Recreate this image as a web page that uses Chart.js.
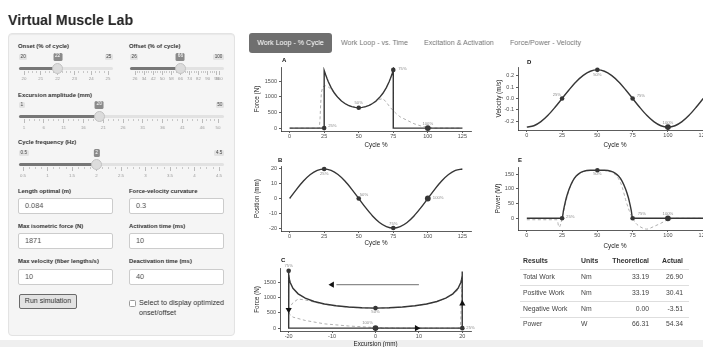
<!DOCTYPE html>
<html>
<head>
<meta charset="utf-8">
<title>Virtual Muscle Lab</title>
<script src="https://cdn.jsdelivr.net/npm/chart.js@4.4.1/dist/chart.umd.min.js"></script>
<style>
  html { filter: grayscale(1); }
  html, body { margin: 0; padding: 0; }
  body { position: relative; width: 703px; height: 347px; overflow: hidden; background: #fff;
         font-family: "Liberation Sans", Arial, Helvetica, sans-serif; color: #333; }
  .a { position: absolute; white-space: nowrap; line-height: 1; }
  h2 { position: absolute; left: 8px; top: 13px; margin: 0; font-size: 14.2px; font-weight: bold;
       line-height: 1; color: #2a2a2a; }
  .well { position: absolute; left: 8px; top: 33px; width: 227px; height: 303px; box-sizing: border-box;
          background: #f5f5f5; border: 1px solid #e3e3e3; border-radius: 4px; box-shadow: inset 0 1px 1px rgba(0,0,0,.05); }
  .lbl { font-size: 5.9px; font-weight: bold; color: #333; }
  .inp { position: absolute; width: 95px; height: 16px; box-sizing: border-box; background: #fff;
         border: 1px solid #ccc; border-radius: 2px; font-size: 7.3px; color: #555; padding-left: 6px; line-height: 14px; }
  .box { font-size: 4.6px; padding: .8px 1.6px; background: #e3e3e3; color: #444; border-radius: 1.5px; }
  .vbox { font-size: 4.8px; padding: 1.4px 1.8px; background: #8a8a8a; color: #fff; border-radius: 1.5px; transform: translateX(-50%); }
  .btn { position: absolute; left: 19px; top: 294px; width: 58px; height: 15px; box-sizing: border-box;
         background: #e2e2e2; border: 1.4px solid #6a6a6a; border-radius: 2px; font-size: 7px; color: #333;
         text-align: center; line-height: 12px; }
  .chk { position: absolute; left: 129px; top: 300px; width: 7px; height: 7px; box-sizing: border-box;
         background: #fff; border: 1px solid #9a9a9a; border-radius: 1.5px; }
  .tab { font-size: 7.1px; color: #7a7a7a; }
  .tab.on { left: 249px; top: 33px; width: 83px; height: 20px; line-height: 20px; text-align: center;
            background: #6f6f6f; color: #fff; border-radius: 3px; }
  .tag { font-size: 6px; font-weight: bold; color: #111; }
  .th { font-size: 6.9px; font-weight: bold; color: #333; }
  .td { font-size: 6.8px; color: #444; }
  .rule { position: absolute; left: 520px; width: 169px; background: #dedede; }
  canvas { position: absolute; }
  .band { position: absolute; left: 0; top: 340px; width: 703px; height: 7px; background: #efefef; }
</style>
</head>
<body>
<div class="band"></div>
<h2>Virtual Muscle Lab</h2>

<div class="well"></div>
<div class="a lbl" style="left:18px;top:44.1px">Onset (% of cycle)</div>
<div class="a lbl" style="left:129px;top:44.1px">Offset (% of cycle)</div>
<div class="a lbl" style="left:18px;top:93.1px">Excursion amplitude (mm)</div>
<div class="a lbl" style="left:18px;top:140.4px">Cycle frequency (Hz)</div>

<div class="a lbl" style="left:18px;top:188.8px">Length optimal (m)</div>
<div class="a lbl" style="left:129px;top:188.8px">Force-velocity curvature</div>
<div class="inp" style="left:18px;top:198px">0.084</div>
<div class="inp" style="left:129px;top:198px">0.3</div>

<div class="a lbl" style="left:18px;top:223.8px">Max isometric force (N)</div>
<div class="a lbl" style="left:129px;top:223.8px">Activation time (ms)</div>
<div class="inp" style="left:18px;top:233px">1871</div>
<div class="inp" style="left:129px;top:233px">10</div>

<div class="a lbl" style="left:18px;top:258.8px">Max velocity (fiber lengths/s)</div>
<div class="a lbl" style="left:129px;top:258.8px">Deactivation time (ms)</div>
<div class="inp" style="left:18px;top:268.5px">10</div>
<div class="inp" style="left:129px;top:268.5px">40</div>

<div class="btn">Run simulation</div>
<div class="chk"></div>
<div class="a" style="left:139px;top:299px;font-size:7.2px;color:#333">Select to display optimized</div>
<div class="a" style="left:139px;top:309px;font-size:7.2px;color:#333">onset/offset</div>

<div class="a tab on">Work Loop - % Cycle</div>
<div class="a tab" style="left:341px;top:39.5px">Work Loop - vs. Time</div>
<div class="a tab" style="left:424px;top:39.5px">Excitation &amp; Activation</div>
<div class="a tab" style="left:510px;top:39.5px">Force/Power - Velocity</div>

<canvas id="chartA" width="225" height="94" style="left:250px;top:55px"></canvas>
<canvas id="chartD" width="245" height="94" style="left:475px;top:55px"></canvas>
<canvas id="chartB" width="225" height="97" style="left:250px;top:150px"></canvas>
<canvas id="chartE" width="245" height="100" style="left:475px;top:150px"></canvas>
<canvas id="chartC" width="225" height="98" style="left:250px;top:250px"></canvas>

<div class="a tag" style="left:282px;top:57px">A</div>
<div class="a tag" style="left:527px;top:59px">D</div>
<div class="a tag" style="left:278px;top:157px">B</div>
<div class="a tag" style="left:518px;top:157px">E</div>
<div class="a tag" style="left:281px;top:257px">C</div>

<script>
// ---- work loop data (cycle %, force, position, velocity, power) ----
const cycleTicks = [0, 25, 50, 75, 100, 125];
const forceTicks = [0, 500, 1000, 1500];
const positionTicks = [-20, -10, 0, 10, 20];
const velocityTicks = [-0.2, -0.1, 0, 0.1, 0.2];
const powerTicks = [0, 50, 100, 150];
const excursionTicks = [-20, -10, 0, 10, 20];

// simulated force (solid)
const forceCycle = [0, 25, 25, 26, 27, 28, 30, 32.5, 35, 37.5, 40, 42.5, 45, 47.5, 50,
  52.5, 55, 57.5, 60, 62.5, 65, 67.5, 70, 72, 73, 74, 75, 75, 125];
const forceN = [0, 0, 1850, 1720, 1600, 1490, 1300, 1120, 980, 870, 790, 730, 690, 665, 655,
  665, 690, 730, 790, 870, 980, 1120, 1300, 1490, 1600, 1720, 1870, 0, 0];
const forceExcursion = [0, 20, 20, 19.96, 19.84, 19.65, 19.02, 17.82, 16.18, 14.14, 11.76, 9.08, 6.18, 3.13, 0,
  -3.13, -6.18, -9.08, -11.76, -14.14, -16.18, -17.82, -19.02, -19.65, -19.84, -19.96, -20, -20, 20];

// force with activation dynamics (dashed)
const dashCycle = [0, 21.5, 22, 22.5, 23, 24, 26, 28, 30, 32.5, 35, 37.5, 40, 42.5, 45, 47.5, 50,
  52.5, 55, 57.5, 60, 62.5, 65, 67.5, 70, 72.5, 75, 77.5, 80, 85, 90, 95, 100, 105, 125];
const dashForceN = [0, 0, 300, 800, 1150, 1330, 1360, 1320, 1250, 1110, 975, 865, 785, 725, 685, 660, 650,
  660, 685, 720, 780, 850, 920, 950, 830, 680, 560, 450, 360, 250, 140, 70, 20, 0, 0];
const dashExcursion = [0, 19.52, 19.65, 19.75, 19.84, 19.96, 19.96, 19.65, 19.02, 17.82, 16.18, 14.14, 11.76, 9.08, 6.18, 3.13, 0,
  -3.13, -6.18, -9.08, -11.76, -14.14, -16.18, -17.82, -19.02, -19.75, -20, -19.75, -19.02, -16.18, -11.76, -6.18, 0, 6.18, 20];

// position and velocity over the cycle
const waveCycle = [0, 5, 10, 15, 20, 25, 30, 35, 40, 45, 50, 55, 60, 65, 70, 75, 80, 85, 90, 95, 100, 105, 110, 115, 120, 125];
const positionMm = [0, 6.2, 11.8, 16.2, 19.0, 20, 19.0, 16.2, 11.8, 6.2, 0, -6.2, -11.8, -16.2, -19.0, -20,
  -19.0, -16.2, -11.8, -6.2, 0, 6.2, 11.8, 16.2, 19.0, 20];
const velocityMs = [-0.25, -0.238, -0.202, -0.147, -0.077, 0, 0.077, 0.147, 0.202, 0.238, 0.25, 0.238, 0.202, 0.147,
  0.077, 0, -0.077, -0.147, -0.202, -0.238, -0.25, -0.238, -0.202, -0.147, -0.077, 0];

// power (solid = simulated, dashed = with activation dynamics)
const powerCycle = [0, 25, 26, 27, 28, 30, 32.5, 35, 37.5, 40, 42.5, 45, 47.5, 50,
  52.5, 55, 57.5, 60, 62.5, 65, 67.5, 70, 72, 73, 74, 75, 125];
const powerW = [0, 0, 27, 50, 70, 100, 127, 144, 154, 160, 163, 164, 164, 164,
  164, 164, 163, 160, 154, 144, 127, 100, 70, 50, 27, 0, 0];
const dashPowerCycle = [0, 20, 21.5, 22, 22.5, 23, 24, 25, 26, 28, 30, 32.5, 35, 37.5, 40, 42.5, 45, 47.5, 50,
  52.5, 55, 57.5, 60, 62.5, 65, 67.5, 70, 72.5, 75, 77.5, 80, 85, 90, 95, 100, 105, 125];
const dashPowerW = [-5, -5, -5, -14, -28, -30, -20, 0, 21, 62, 97, 126, 143, 153, 159, 162, 163, 163, 162,
  163, 163, 160, 158, 150, 135, 108, 64, 27, 0, -18, -28, -37, -28, -17, -5, 0, 0];

// quarter-cycle markers
const markerCycle = [25, 50, 75, 100];
const markerText = ['25%', '50%', '75%', '100%'];
const markerForceN = [0, 655, 1870, 0];
const markerPositionMm = [20, 0, -20, 0];
const markerVelocity = [0, 0.25, 0, -0.25];
const markerPowerW = [0, 164, 0, 0];
const markerExcursion = [20, 0, -20, 0];

// loop direction arrows on the work loop
const arrowExcursion = [-20, 20, 9.5, -10];
const arrowForceN = [600, 800, 0, 1420];
const guideExcursion = [10, -9];
const guideForceN = [1420, 1420];

// results table
const resultNames = ['Total Work', 'Positive Work', 'Negative Work', 'Power'];
const resultUnits = ['Nm', 'Nm', 'Nm', 'W'];
const theoretical = ['33.19', '33.19', '0.00', '66.31'];
const actual = ['26.90', '30.41', '-3.51', '54.34'];

// ---- styling ----
const FONT = '"Liberation Sans", Arial, Helvetica, sans-serif';
const INK = '#363636';
const DASH = '#b0b0b0';
const markerSize = [2.3, 2.3, 2.3, 2.9];
const arrowTurn = [180, 0, 90, 270];

// label offsets [dx, dy, align] for the 25/50/75/100 % markers
const offA = [[4, -2, 'left'], [0, -5, 'center'], [5, -1, 'left'], [0, -4, 'center']];
const offB = [[0, 5, 'center'], [1, -4, 'left'], [0, -4, 'center'], [5, -1, 'left']];
const offC = [[4, 0, 'left'], [0, 4, 'center'], [0, -5, 'center'], [-8, -5, 'center']];
const offD = [[-1, -4, 'right'], [0, 5, 'center'], [4, -3, 'left'], [0, -4, 'center']];
const offE = [[4, -1, 'left'], [0, 4, 'center'], [5, -4, 'left'], [0, -4, 'center']];

const pts = (xs, ys) => xs.map((x, i) => ({ x: x, y: ys[i] }));

function solid(xs, ys, smooth) {
  return { data: pts(xs, ys), showLine: true, borderColor: INK, borderWidth: 1.4,
    pointRadius: 0, tension: 0, cubicInterpolationMode: smooth ? 'monotone' : 'default' };
}
function dashed(xs, ys, smooth) {
  return { data: pts(xs, ys), showLine: true, borderColor: DASH, borderWidth: 1, borderDash: [3, 2.5],
    pointRadius: 0, tension: 0, cubicInterpolationMode: smooth ? 'monotone' : 'default' };
}
function markers(xs, ys, offsets) {
  return { data: pts(xs, ys), showLine: false, pointRadius: markerSize, backgroundColor: INK,
    borderWidth: 0, labelText: markerText, labelOffset: offsets };
}

// small grey "25%" style tags next to markers
const pointLabels = {
  id: 'pointLabels',
  afterDatasetsDraw(chart) {
    const ctx = chart.ctx;
    chart.data.datasets.forEach((ds, i) => {
      if (!ds.labelText) return;
      ctx.save();
      ctx.font = '4.2px ' + FONT;
      ctx.fillStyle = '#8c8c8c';
      ctx.textBaseline = 'middle';
      chart.getDatasetMeta(i).data.forEach((p, j) => {
        const o = ds.labelOffset[j];
        ctx.textAlign = o[2];
        ctx.fillText(ds.labelText[j], p.x + o[0], p.y + o[1]);
      });
      ctx.restore();
    });
  }
};

function axis(ticks, min, max, title, fit, fmt, pad) {
  return {
    type: 'linear', min: min, max: max,
    afterBuildTicks: s => { s.ticks = ticks.map(v => ({ value: v })); },
    afterFit: fit,
    grid: { drawOnChartArea: false, drawTicks: true, tickLength: 2, color: '#333', lineWidth: 0.8 },
    border: { display: true, color: '#333', width: 0.8 },
    ticks: { font: { size: 5.5, family: FONT }, color: '#4d4d4d', padding: pad, autoSkip: false,
      maxRotation: 0, callback: fmt || (v => String(v)) },
    title: { display: true, text: title, font: { size: 6.3, family: FONT }, color: '#1a1a1a', padding: 0 }
  };
}

function panel(id, cfg) {
  return new Chart(document.getElementById(id), {
    type: 'scatter',
    data: { datasets: cfg.datasets },
    options: {
      responsive: false, animation: false, events: [],
      layout: { padding: cfg.pad },
      plugins: { legend: { display: false }, tooltip: { enabled: false } },
      scales: {
        x: axis(cfg.x.ticks, cfg.x.min, cfg.x.max, cfg.x.title, s => { s.height = cfg.xHeight; }, cfg.x.fmt, 0),
        y: axis(cfg.y.ticks, cfg.y.min, cfg.y.max, cfg.y.title, s => { s.width = cfg.yWidth; }, cfg.y.fmt, 2)
      }
    },
    plugins: [pointLabels]
  });
}

panel('chartA', {
  pad: { left: 3, top: 12, right: 4, bottom: 0 }, yWidth: 28, xHeight: 18,
  x: { ticks: cycleTicks, min: -6.25, max: 131.25, title: 'Cycle %' },
  y: { ticks: forceTicks, min: -93.5, max: 1963.5, title: 'Force (N)' },
  datasets: [markers(markerCycle, markerForceN, offA), solid(forceCycle, forceN), dashed(dashCycle, dashForceN)]
});

panel('chartB', {
  pad: { left: 3, top: 16, right: 4, bottom: 0 }, yWidth: 28, xHeight: 16,
  x: { ticks: cycleTicks, min: -6.25, max: 131.25, title: 'Cycle %' },
  y: { ticks: positionTicks, min: -22, max: 22, title: 'Position (mm)' },
  datasets: [markers(markerCycle, markerPositionMm, offB), solid(waveCycle, positionMm, true)]
});

panel('chartD', {
  pad: { left: 20, top: 12, right: 8, bottom: 0 }, yWidth: 23, xHeight: 19,
  x: { ticks: cycleTicks, min: -6.25, max: 131.25, title: 'Cycle %' },
  y: { ticks: velocityTicks, min: -0.275, max: 0.275, title: 'Velocity (m/s)', fmt: v => v.toFixed(1) },
  datasets: [markers(markerCycle, markerVelocity, offD), solid(waveCycle, velocityMs, true)]
});

panel('chartE', {
  pad: { left: 19, top: 17, right: 8, bottom: 0 }, yWidth: 24, xHeight: 20,
  x: { ticks: cycleTicks, min: -6.25, max: 131.25, title: 'Cycle %' },
  y: { ticks: powerTicks, min: -40, max: 175, title: 'Power (W)' },
  datasets: [markers(markerCycle, markerPowerW, offE), solid(powerCycle, powerW, true),
    dashed(dashPowerCycle, dashPowerW, true)]
});

panel('chartC', {
  pad: { left: 3, top: 18, right: 4, bottom: 0 }, yWidth: 27, xHeight: 17,
  x: { ticks: excursionTicks, min: -22, max: 22, title: 'Excursion (mm)' },
  y: { ticks: forceTicks, min: -93.5, max: 1963.5, title: 'Force (N)' },
  datasets: [
    markers(markerExcursion, markerForceN, offC),
    { data: pts(arrowExcursion, arrowForceN), showLine: false, pointStyle: 'triangle', pointRotation: arrowTurn,
      pointRadius: 3.6, backgroundColor: '#111', borderWidth: 0 },
    { data: pts(guideExcursion, guideForceN), showLine: true, borderColor: '#8c8c8c', borderWidth: 1.4, pointRadius: 0 },
    solid(forceExcursion, forceN),
    dashed(dashExcursion, dashForceN)
  ]
});

// ---- side panel sliders ----
function el(cls, css, text) {
  const d = document.createElement('div');
  d.className = cls;
  d.style.cssText = css;
  if (text != null) d.textContent = text;
  document.body.appendChild(d);
  return d;
}

const sliders = [
  { x0: 19, x1: 113, a: 24, b: 108, min: 20, max: 25, value: 22, grid: [20, 21, 22, 23, 24, 25], boxY: 57, trackY: 68, gridY: 79 },
  { x0: 130, x1: 224, a: 135, b: 219, min: 26, max: 100, value: 66, grid: [26, 34, 42, 50, 58, 66, 74, 82, 90, 98, 100], boxY: 57, trackY: 68, gridY: 79 },
  { x0: 19, x1: 224, a: 24, b: 218, min: 1, max: 50, value: 20, grid: [1, 6, 11, 16, 21, 26, 31, 36, 41, 46, 50], boxY: 105, trackY: 116, gridY: 127.7 },
  { x0: 19, x1: 224, a: 23, b: 219, min: 0.5, max: 4.5, value: 2, grid: [0.5, 1, 1.5, 2, 2.5, 3, 3.5, 4, 4.5], boxY: 153.3, trackY: 164.3, gridY: 176 }
];

sliders.forEach(s => {
  const px = v => s.a + (v - s.min) / (s.max - s.min) * (s.b - s.a);
  const hx = px(s.value);
  el('a', `left:${s.x0}px;top:${s.trackY - 1.5}px;width:${s.x1 - s.x0}px;height:3px;background:#e2e2e2;border-radius:2px;`);
  el('a', `left:${s.x0}px;top:${s.trackY - 1.5}px;width:${hx - s.x0}px;height:3px;background:#777;border-radius:2px;`);
  s.grid.forEach((g, i) => {
    const x = px(g);
    el('a', `left:${x - 0.4}px;top:${s.trackY + 3}px;width:0.8px;height:3.5px;background:#bbb;`);
    el('a', `left:${x - 10}px;top:${s.gridY - 2.2}px;width:20px;text-align:center;font-size:4.4px;color:#999;`, String(g));
    if (i < s.grid.length - 1) {
      const nx = px(s.grid[i + 1]);
      if (nx - x > 8) {
        for (let k = 1; k < 4; k++) {
          const mx = x + (nx - x) * k / 4;
          el('a', `left:${mx - 0.3}px;top:${s.trackY + 3}px;width:0.6px;height:2px;background:#c8c8c8;`);
        }
      }
    }
  });
  el('a', `left:${hx - 5.5}px;top:${s.trackY - 5.5}px;width:11px;height:11px;box-sizing:border-box;border-radius:50%;background:#dcdcdc;border:1px solid #c2c2c2;`);
  el('a box', `left:${s.x0}px;top:${s.boxY - 3}px;`, String(s.min));
  el('a box', `right:${703 - s.x1}px;top:${s.boxY - 3}px;`, String(s.max));
  el('a vbox', `left:${hx}px;top:${s.boxY - 4}px;`, String(s.value));
});

// ---- results table ----
const rowY = [277, 293, 309, 324.3];
el('a th', 'left:523px;top:257.5px', 'Results');
el('a th', 'left:581px;top:257.5px', 'Units');
el('a th', 'left:599px;top:257.5px;width:50px;text-align:right', 'Theoretical');
el('a th', 'left:653px;top:257.5px;width:30px;text-align:right', 'Actual');
el('rule', 'top:268.5px;height:1.5px');
resultNames.forEach((name, i) => {
  const t = rowY[i] - 3.4;
  el('a td', `left:523px;top:${t}px`, name);
  el('a td', `left:581px;top:${t}px`, resultUnits[i]);
  el('a td', `left:599px;top:${t}px;width:50px;text-align:right`, theoretical[i]);
  el('a td', `left:653px;top:${t}px;width:30px;text-align:right`, actual[i]);
  if (i < resultNames.length - 1) el('rule', `top:${rowY[i] + 8}px;height:1px`);
});
</script>
</body>
</html>
